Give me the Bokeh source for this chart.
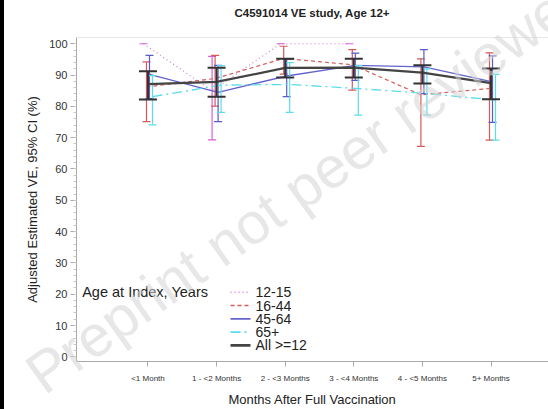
import numpy as np
from bokeh.plotting import figure
from bokeh.layouts import row
from bokeh.models import Range1d, FixedTicker, Span, Div
from bokeh.embed import file_html
from bokeh.resources import INLINE

nan = np.nan

chart_title = "C4591014 VE study, Age 12+"

# Time since full vaccination (x categories)
months = ["<1 Month", "1 - <2 Months", "2 - <3 Months", "3 - <4 Months",
          "4 - <5 Months", "5+ Months"]

# Adjusted VE (%) with 95% CI per age group
ve_12_15 = [100.0, 85.0, 100.0, 100.0, nan, nan]
lo_12_15 = [nan, 69.3, nan, nan, nan, nan]
hi_12_15 = [100.0, 96.0, 100.0, 100.0, nan, nan]

ve_16_44 = [86.2, 88.9, 95.3, 93.3, 83.7, 85.7]
lo_16_44 = [75.1, 80.1, 90.3, 85.2, 67.2, 69.2]
hi_16_44 = [94.2, 96.3, 99.2, 98.1, 95.2, 97.1]

ve_45_64 = [90.2, 84.5, 89.7, 93.1, 92.6, 87.8]
lo_45_64 = [82.5, 75.1, 83.1, 88.3, 84.1, 74.9]
hi_45_64 = [96.3, 93.1, 95.0, 97.0, 98.1, 96.1]

ve_65 = [83.1, 86.8, 87.0, 85.7, 84.1, 82.0]
lo_65 = [74.1, 78.1, 78.1, 77.2, 77.2, 69.2]
hi_65 = [89.8, 93.0, 94.0, 93.0, 92.0, 90.2]

ve_all = [87.1, 87.8, 92.3, 92.4, 90.8, 87.4]
lo_all = [82.2, 83.1, 89.2, 89.2, 87.3, 82.3]
hi_all = [91.2, 92.3, 95.2, 95.2, 93.1, 92.1]

age_groups = ["12-15", "16-44", "45-64", "65+", "All >=12"]

series = [
    (age_groups[0], ve_12_15, lo_12_15, hi_12_15),
    (age_groups[1], ve_16_44, lo_16_44, hi_16_44),
    (age_groups[2], ve_45_64, lo_45_64, hi_45_64),
    (age_groups[3], ve_65, lo_65, hi_65),
    (age_groups[4], ve_all, lo_all, hi_all),
]

styles = {
    "12-15": dict(color="#d67ad6", dash="1 3", width=1.2, shift=-4.5, cap=8, cap_w=1.2, cap_color="#d660d6"),
    "16-44": dict(color="#d65a5a", dash="4 3", width=1.2, shift=-1.5, cap=8, cap_w=1.2, cap_color="#d65a5a"),
    "45-64": dict(color="#6464cc", dash="solid", width=1.3, shift=1.5, cap=8, cap_w=1.2, cap_color="#5a5ac8"),
    "65+": dict(color="#5cdcec", dash="10 4 2 4", width=1.3, shift=4.5, cap=8, cap_w=1.2, cap_color="#5cdcec"),
    "All >=12": dict(color="#444444", dash="solid", width=2.2, shift=0.0, cap=18, cap_w=2.0, cap_color="#333333"),
}

px_per_cat = 68.6          # screen width of one category step
px_per_pct = 3.15          # screen height of one VE percentage point

p = figure(width=544, height=409,
           x_range=Range1d(-0.042, 6.838), y_range=Range1d(-1.5, 102.0),
           output_backend="svg", toolbar_location=None,
           min_border_left=72, min_border_right=0,
           min_border_top=37, min_border_bottom=46)
p.outline_line_color = None
p.xgrid.visible = False
p.ygrid.visible = False
p.background_fill_color = "white"
p.border_fill_color = "white"

# top frame line
p.add_layout(Span(location=102.0, dimension="width", line_color="#d0d0d0", line_width=1))

x = np.arange(1, len(months) + 1, dtype=float)
for name, ve, lo, hi in series:
    st = styles[name]
    xs = x + st["shift"] / px_per_cat
    ve = np.array(ve, dtype=float)
    lo = np.array(lo, dtype=float)
    hi = np.array(hi, dtype=float)
    p.line(xs, ve, line_color=st["color"], line_dash=st["dash"], line_width=st["width"])
    both = ~np.isnan(lo) & ~np.isnan(hi)
    p.segment(xs[both], lo[both], xs[both], hi[both], line_color=st["cap_color"], line_width=st["cap_w"])
    for b in (lo, hi):
        ok = ~np.isnan(b)
        p.scatter(xs[ok], b[ok], marker="dash", size=st["cap"], line_color=st["cap_color"],
                  line_width=st["cap_w"])

# axes
yax = p.yaxis[0]
yax.ticker = FixedTicker(ticks=list(range(0, 101, 10)), minor_ticks=list(range(0, 101, 2)))
yax.axis_label = "Adjusted Estimated VE, 95% CI (%)"
xax = p.xaxis[0]
xax.ticker = FixedTicker(ticks=list(x), minor_ticks=[])
xax.major_label_overrides = {float(i): m for i, m in zip(x, months)}
xax.major_label_overrides.update({int(i): m for i, m in zip(x, months)})
xax.axis_label = "Months After Full Vaccination"
for ax in (xax, yax):
    ax.axis_line_color = "#a8a8a8"
    ax.major_tick_line_color = "#a8a8a8"
    ax.minor_tick_line_color = "#c8c8c8"
    ax.major_tick_in = 0
    ax.minor_tick_in = 0
    ax.major_label_text_font = "Liberation Sans"
    ax.major_label_text_color = "#333333"
    ax.axis_label_text_font = "Liberation Sans"
    ax.axis_label_text_font_style = "normal"
    ax.axis_label_text_font_size = "13px"
    ax.axis_label_text_color = "#222222"
yax.major_tick_out = 6
yax.minor_tick_out = 3
yax.major_label_text_font_size = "11px"
yax.major_label_standoff = 3
yax.axis_label_standoff = 6
xax.major_tick_out = 5
xax.major_label_text_font_size = "8px"
xax.major_label_standoff = 7
xax.axis_label_standoff = 6

# legend block (inside the frame, lower left): title, then one row per group
legend_left = 0.041                       # x of legend title (category units)
sample_x0, sample_x1 = 2.203, 2.494       # line sample span
label_x = 2.567
row_top = 20.6                            # y of first row (VE units)
row_step = 13.35 / px_per_pct             # row pitch converted to VE units

p.text(x=[legend_left], y=[row_top], text=["Age at Index, Years"], text_baseline="middle",
       text_font={"value": "Liberation Sans"}, text_font_size="14.5px", text_color="#222222")
for k, name in enumerate(age_groups):
    st = styles[name]
    yy = row_top - k * row_step
    p.line([sample_x0, sample_x1], [yy, yy], line_color=st["color"], line_dash=st["dash"],
           line_width=st["width"] + (0.6 if name == "All >=12" else 0.3))
    p.text(x=[label_x], y=[yy], text=[name], text_baseline="middle",
           text_font={"value": "Liberation Sans"}, text_font_size="14px", text_color="#222222")

# black rule down the left edge; it also carries the page heading (centred over the
# plot frame) and the faint diagonal watermark that runs across the page
title_html = ("<div style=\"position:absolute; left:0px; top:8px; width:624px; text-align:center; "
              "font-family:'Liberation Sans'; font-weight:bold; font-size:11.5px; line-height:1; "
              "color:#222222; white-space:nowrap;\">" + chart_title + "</div>")
wm_html = ("<span style=\"position:absolute; left:16px; top:356px; white-space:nowrap; "
           "font-family:'Liberation Sans'; font-size:58px; line-height:1; color:#d4d4d4; "
           "opacity:0.55; transform-origin:0 0; transform:rotate(-35.5deg); "
           "pointer-events:none;\">Preprint not peer reviewed</span>")
edge = Div(text=title_html + wm_html, width=4, height=409, margin=0,
           styles={"background-color": "black", "overflow": "visible", "z-index": "10"})

layout = row(edge, p, spacing=0)
open("out.html", "w").write(file_html(layout, INLINE))
